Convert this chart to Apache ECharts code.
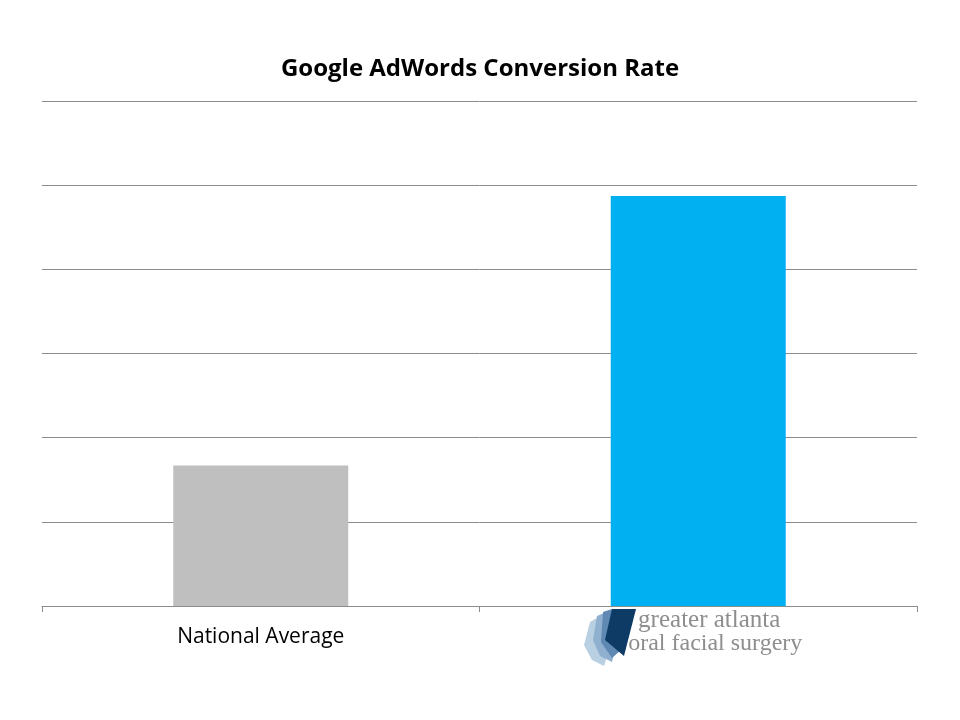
<!DOCTYPE html>
<html>
<head>
<meta charset="utf-8">
<script src="https://cdn.jsdelivr.net/npm/echarts@6/dist/echarts.min.js"></script>
<style>html,body{margin:0;padding:0;background:#fff;}#c{width:960px;height:720px;}</style>
</head>
<body>
<div id="c"></div>
<script>
var titleText = 'Google AdWords Conversion Rate';
var categories = ['National Average', 'greater atlanta\noral facial surgery'];
var values = [1.67, 4.87];
var barColors = ['#bfbfbf', '#00b0f0'];

var chart = echarts.init(document.getElementById('c'));
chart.setOption({
  animation: false,
  backgroundColor: '#ffffff',
  title: {
    text: titleText,
    left: 'center',
    top: 52,
    textStyle: { fontFamily: 'Open Sans', fontWeight: 'bold', fontSize: 24, color: '#000' }
  },
  grid: { left: 42, right: 43, top: 101, bottom: 114, containLabel: false },
  xAxis: {
    type: 'category',
    data: categories,
    axisLine: { lineStyle: { color: '#8c8c8c', width: 1 } },
    axisTick: { show: true, length: 6, lineStyle: { color: '#8c8c8c' } },
    axisLabel: {
      margin: 3,
      interval: 0,
      formatter: function (v, i) {
        if (i === 0) return '{na|' + v + '}';
        var parts = v.split('\n');
        return '{l1|' + parts[0] + '}\n{l2|' + parts[1] + '}';
      },
      rich: {
        na: { fontFamily: 'Open Sans', fontSize: 21, color: '#000', padding: [18, 0, 0, 0] },
        l1: { fontFamily: 'Liberation Serif', fontSize: 25, color: '#8e8e8e', lineHeight: 22, padding: [0, 0, 0, 22] },
        l2: { fontFamily: 'Liberation Serif', fontSize: 24, color: '#8e8e8e', lineHeight: 25, padding: [0, 0, 0, 34] }
      }
    }
  },
  yAxis: {
    type: 'value',
    min: 0,
    max: 6,
    interval: 1,
    axisLabel: { show: false },
    axisLine: { show: false },
    axisTick: { show: false },
    splitLine: { lineStyle: { color: '#8c8c8c', width: 1 } }
  },
  series: [{
    type: 'bar',
    barWidth: '40%',
    data: values.map(function (v, i) { return { value: v, itemStyle: { color: barColors[i] } }; })
  }],
  graphic: [
    { type: 'polygon', shape: { points: [[590, 622], [604, 614], [612, 640], [604, 666], [592, 660], [584, 645]] }, style: { fill: '#b9cfe2' }, z: 10 },
    { type: 'polygon', shape: { points: [[597, 616], [609, 611], [617, 640], [612, 662], [600, 656], [593, 640]] }, style: { fill: '#8fb0cf' }, z: 11 },
    { type: 'polygon', shape: { points: [[603, 612], [612, 609], [621, 650], [612, 658], [601, 642]] }, style: { fill: '#5f88b3' }, z: 12 },
    { type: 'polygon', shape: { points: [[612, 609], [636, 609], [624, 656], [605, 640]] }, style: { fill: '#0e3a66' }, z: 13 }
  ]
});
</script>
</body>
</html>
